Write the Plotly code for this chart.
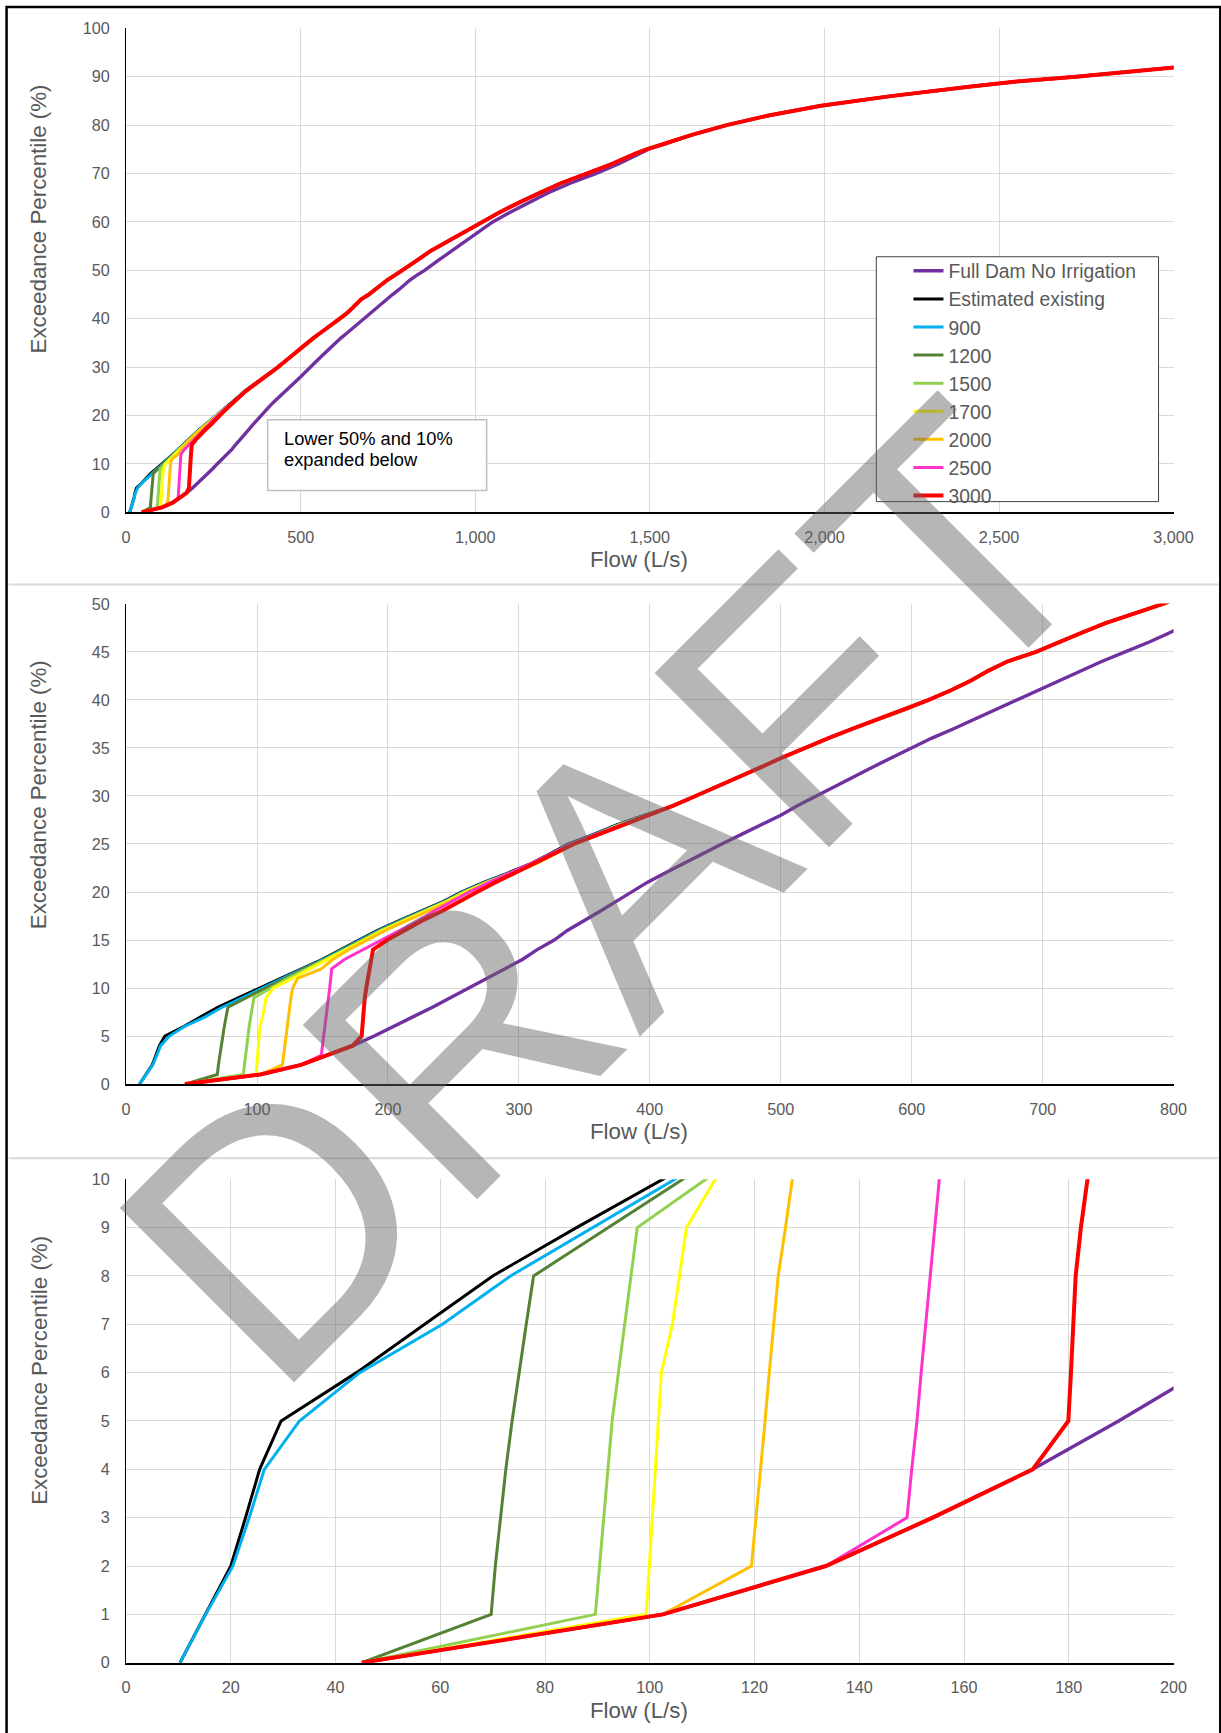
import plotly.graph_objects as go

# ---------------- data ----------------
# Exceedance percentiles (%) for the lower part of every curve
PCT_LOW = list(range(0, 29))
# Upper part percentiles (%)
PCT_UP = [29, 30, 31, 32, 33, 34, 35, 36, 37, 38, 39, 40, 41, 42, 43, 44, 45, 46, 47, 48, 49, 50,
          52, 54, 56, 58, 60, 62, 64, 66, 68, 70, 72, 74,
          75, 76, 78, 80, 82, 84, 85, 86, 88, 89, 90, 91, 92, 93]

# flows (L/s) at PCT_LOW
FULL_DAM_LOW = [45, 102.5, 133.6, 154.0, 173.1, 189.5, 205, 219, 234, 248, 261, 276, 290, 303, 314,
                327, 337, 350, 362, 374, 386, 398, 412, 426, 440, 455, 470, 485, 500]
EXISTING_LOW = [10.3, 15.2, 20.0, 22.8, 25.5, 29.6, 44.0, 57.0, 70.0, 86.0, 102.5, 118, 134, 150, 164,
                178, 192, 208, 225, 242, 256, 273, 292, 310, 324, 338, 357, 375, 396]
F900_LOW = [10.3, 15.2, 20.4, 23.5, 26.4, 33.1, 44.6, 60.4, 73.4, 89.0, 104.8, 119.5, 135, 151, 165,
            179, 193, 209, 226, 243, 257, 274, 293, 311, 325, 339, 358, 376, 397]
F1200_LOW = [45, 69.7, 70.5, 71.5, 72.5, 73.7, 75.0, 76.4, 77.8, 92.0, 106.3, 121, 136, 152, 166,
             180, 194, 210, 227, 244, 258, 275, 294, 312, 326, 340, 359, 377, 398]
F1500_LOW = [45, 89.6, 90.4, 91.2, 92.0, 92.8, 94.0, 95.2, 96.4, 97.6, 110.7, 123, 138, 153, 167,
             181, 195, 211, 228, 244, 258, 275, 294, 312, 326, 340, 359, 377, 398]
F1700_LOW = [45, 99.3, 99.9, 100.5, 101.0, 101.6, 102.2, 104.3, 105.6, 107.0, 112.5, 127, 140, 154, 168,
             182, 196, 212, 229, 245, 259, 276, 295, 313, 327, 341, 360, 378, 398]
F2000_LOW = [45, 102.5, 119.4, 120.3, 121.2, 122.0, 122.8, 123.7, 124.5, 125.9, 127.2, 131, 149, 158, 170,
             184, 198, 214, 231, 247, 261, 278, 297, 314, 328, 342, 361, 379, 399]
F2500_LOW = [45, 102.5, 133.6, 149.1, 150.0, 151.0, 151.8, 152.7, 153.6, 154.5, 155.5, 156.3, 157.0, 167, 181,
             195, 210, 223, 235, 248, 262, 277, 294, 310, 325, 340, 359, 378, 398]
F3000_LOW = [45, 102.5, 133.6, 154.0, 173.1, 179.9, 180.4, 180.9, 181.3, 182.3, 183.4, 184.6, 185.8, 187.0, 188.6,
             199.5, 212, 226, 241, 254, 268, 282, 297, 311, 327, 342, 361, 380, 400]

# flows (L/s) at PCT_UP
IRRIGATION_UP = [418, 435, 452, 468, 485, 501, 518, 536, 555, 575, 595, 613, 630, 645, 658, 673, 695, 712, 730, 748, 770, 792,
                 832, 872, 922, 970, 1019, 1070, 1125, 1182, 1245, 1319, 1392, 1455,
                 1490, 1535, 1620, 1720, 1840, 1990, 2090, 2190, 2420, 2550, 2720, 2860, 3010, 3200]
FULL_DAM_UP = [513, 527, 542, 556, 570, 585, 600, 615, 632, 648, 664, 680, 697, 713, 728, 745, 763, 781, 797, 813, 833, 855,
               893, 932, 972, 1010, 1050, 1100, 1152, 1208, 1272, 1345, 1410, 1465,
               1495, 1537, 1620, 1720, 1840, 1990, 2090, 2190, 2420, 2550, 2720, 2860, 3010, 3200]

SERIES_NAMES = ["Full Dam No Irrigation", "Estimated existing", "900", "1200", "1500", "1700", "2000", "2500", "3000"]
SERIES_LOW = [FULL_DAM_LOW, EXISTING_LOW, F900_LOW, F1200_LOW, F1500_LOW, F1700_LOW, F2000_LOW, F2500_LOW, F3000_LOW]
SERIES_UP = [FULL_DAM_UP] + [IRRIGATION_UP] * 8
SERIES_COLORS = ["#7030A0", "#000000", "#00B0F0", "#548235", "#92D050", "#FFFF00", "#FFC000", "#FF33CC", "#FF0000"]
SERIES_WIDTHS = [3.4, 3.0, 3.0, 3.0, 3.0, 3.0, 3.0, 3.0, 4.0]

X_RANGES = [[0, 3000], [0, 800], [0, 200]]
X_DTICKS = [500, 100, 20]
Y_RANGES = [[0, 100], [0, 50], [0, 10]]
Y_DTICKS = [10, 5, 1]

X_TITLE = "Flow (L/s)"
Y_TITLE = "Exceedance Percentile (%)"
NOTE_LINES = ["Lower 50% and 10%", "expanded below"]
WATERMARK = "DRAFT"

# ---------------- layout helpers ----------------
# positions below are taken in reference-image pixels and mapped to the figure
FW, FH = 1246, 1742
SX, OX = 1.0249, 6.6
SY, OY = 1.0099, 8.2
FS = 1.015  # font scale


def px(x):
    return (SX * x - OX) / FW


def py(y):
    return 1 - (SY * y - OY) / FH


def fs(s):
    return round(s * FS, 1)


X_DOMAIN = [px(127), px(1170)]
Y_DOMAINS = [[py(511.7), py(27.5)], [py(1083.8), py(603.3)], [py(1662.7), py(1179)]]
X_TITLE_Y = [559, 1131, 1711]
Y_TITLE_Y = [218, 794, 1370]

FONT = "Liberation Sans, Arial, sans-serif"
TICK_COLOR = "#595959"
GRID = "#d9d9d9"

fig = go.Figure()

for p in range(3):
    xa = "x" if p == 0 else f"x{p+1}"
    ya = "y" if p == 0 else f"y{p+1}"
    for i, name in enumerate(SERIES_NAMES):
        fig.add_trace(go.Scatter(
            x=SERIES_LOW[i] + SERIES_UP[i],
            y=PCT_LOW + PCT_UP,
            mode="lines",
            name=name,
            line=dict(color=SERIES_COLORS[i], width=SERIES_WIDTHS[i]),
            xaxis=xa, yaxis=ya,
            showlegend=(p == 0),
            legendgroup=name,
            hoverinfo="skip",
        ))

layout = dict(
    width=FW, height=FH,
    margin=dict(l=0, r=0, t=0, b=0),
    paper_bgcolor="white", plot_bgcolor="white",
    font=dict(family=FONT, color=TICK_COLOR),
    showlegend=True,
    legend=dict(
        x=px(906), y=py(251), xanchor="left", yanchor="top",
        bgcolor="rgba(0,0,0,0)", borderwidth=0,
        font=dict(family=FONT, size=fs(19), color=TICK_COLOR),
        tracegroupgap=0, traceorder="normal",
    ),
)

for p in range(3):
    xk = "xaxis" if p == 0 else f"xaxis{p+1}"
    yk = "yaxis" if p == 0 else f"yaxis{p+1}"
    ya = "y" if p == 0 else f"y{p+1}"
    xa = "x" if p == 0 else f"x{p+1}"
    layout[xk] = dict(
        domain=X_DOMAIN, anchor=ya, range=X_RANGES[p], dtick=X_DTICKS[p], tick0=0,
        tickformat=",d", showgrid=True, gridcolor=GRID, gridwidth=1,
        showline=True, linecolor="black", linewidth=2, zeroline=False,
        ticks="outside", ticklen=9, tickcolor="rgba(0,0,0,0)",
        tickfont=dict(family=FONT, size=fs(16), color=TICK_COLOR), fixedrange=True,
    )
    layout[yk] = dict(
        domain=Y_DOMAINS[p], anchor=xa, range=Y_RANGES[p], dtick=Y_DTICKS[p], tick0=0,
        showgrid=True, gridcolor=GRID, gridwidth=1,
        showline=True, linecolor="black", linewidth=1, zeroline=False,
        ticks="outside", ticklen=12, tickcolor="rgba(0,0,0,0)",
        tickfont=dict(family=FONT, size=fs(16), color=TICK_COLOR), fixedrange=True,
    )

fig.update_layout(**layout)

annotations = []
for p in range(3):
    annotations.append(dict(
        xref="paper", yref="paper", x=px(638), y=py(X_TITLE_Y[p]),
        text=X_TITLE, showarrow=False, xanchor="center", yanchor="middle",
        font=dict(family=FONT, size=fs(22), color=TICK_COLOR)))
    annotations.append(dict(
        xref="paper", yref="paper", x=px(40), y=py(Y_TITLE_Y[p]),
        text=Y_TITLE, showarrow=False, textangle=-90, xanchor="center", yanchor="middle",
        font=dict(family=FONT, size=fs(22), color=TICK_COLOR)))

annotations.append(dict(
    xref="paper", yref="paper", x=px(282), y=py(438), text=NOTE_LINES[0], showarrow=False,
    xanchor="left", yanchor="middle", font=dict(family=FONT, size=fs(18), color="black")))
annotations.append(dict(
    xref="paper", yref="paper", x=px(282), y=py(459), text=NOTE_LINES[1], showarrow=False,
    xanchor="left", yanchor="middle", font=dict(family=FONT, size=fs(18), color="black")))

annotations.append(dict(
    xref="paper", yref="paper", x=px(607), y=py(893), text=WATERMARK, showarrow=False,
    textangle=-45, xanchor="center", yanchor="middle",
    font=dict(family=FONT, size=fs(353), color="rgba(100,100,100,0.47)")))

fig.update_layout(annotations=annotations)

shapes = [
    # outer frame
    dict(type="rect", xref="paper", yref="paper", x0=px(8), x1=px(1216.5), y0=py(1760), y1=py(6),
         line=dict(color="black", width=2.5), fillcolor="rgba(0,0,0,0)", layer="above"),
    # panel separators
    dict(type="line", xref="paper", yref="paper", x0=px(10), x1=px(1215), y0=py(584), y1=py(584),
         line=dict(color=GRID, width=2), layer="above"),
    dict(type="line", xref="paper", yref="paper", x0=px(10), x1=px(1215), y0=py(1158), y1=py(1158),
         line=dict(color=GRID, width=2), layer="above"),
    # note box
    dict(type="rect", xref="paper", yref="paper", x0=px(268), x1=px(486), y0=py(490), y1=py(419),
         line=dict(color="#bfbfbf", width=1.5), fillcolor="white", layer="above"),
    # legend box
    dict(type="rect", xref="paper", yref="paper", x0=px(874), x1=px(1155), y0=py(501), y1=py(256),
         line=dict(color="#404040", width=1), fillcolor="white", layer="above"),
]
fig.update_layout(shapes=shapes)

fig.write_html(
    "out.html",
    config={"displayModeBar": False},
    post_script="document.body.style.margin='0';document.body.style.padding='0';"
                "document.documentElement.style.overflow='hidden';",
)
